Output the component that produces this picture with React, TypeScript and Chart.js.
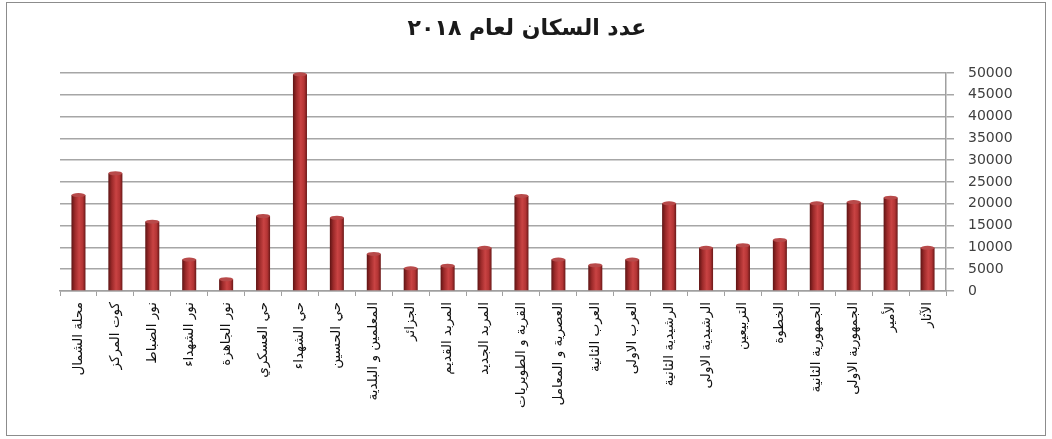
import React, { useEffect, useRef } from "react";
import { Chart, registerables } from "chart.js";

Chart.register(...registerables);

// Categories in data order (first = rightmost, axis reversed as in the original)
const categories: string[] = [
  "الآثار",
  "الأمير",
  "الجمهورية الاولى",
  "الجمهورية الثانية",
  "الخطوة",
  "التربيعين",
  "الرشيدية الاولى",
  "الرشيدية الثانية",
  "العرب الاولى",
  "العرب الثانية",
  "العصرية و المعامل",
  "القرية و الطويريات",
  "المربد الجديد",
  "المربد القديم",
  "الجزائر",
  "المعلمين و البلدية",
  "حي الحسين",
  "حي الشهداء",
  "حي العسكري",
  "نور الجاهزة",
  "نور الشهداء",
  "نور الضباط",
  "كوت المركز",
  "محلة الشمال",
];

const population: number[] = [
  9900, 21400, 20400, 20100, 11700, 10500, 9900, 20100, 7200, 5900, 7200,
  21800, 9900, 5800, 5200, 8500, 16800, 49700, 17200, 2700, 7200, 15900,
  27000, 22000,
];

const yTicks: number[] = [0, 5000, 10000, 15000, 20000, 25000, 30000, 35000, 40000, 45000, 50000];

const titleText = "عدد السكان لعام ٢٠١٨";

const frameAndBars = {
  id: "frameAndBars",
  afterDatasetsDraw(chart: any) {
    const ctx = chart.ctx;
    const meta = chart.getDatasetMeta(0);
    meta.data.forEach((bar: any) => {
      const { x, y, base, width } = bar.getProps(["x", "y", "base", "width"], true);
      const left = x - width / 2;
      const g = ctx.createLinearGradient(left, 0, left + width, 0);
      g.addColorStop(0, "#5e1414");
      g.addColorStop(0.25, "#9c2a2a");
      g.addColorStop(0.55, "#c94343");
      g.addColorStop(0.8, "#b33434");
      g.addColorStop(1, "#6a1818");
      ctx.save();
      ctx.fillStyle = g;
      ctx.fillRect(left, y, width, base - y);
      ctx.beginPath();
      ctx.ellipse(x, y, width / 2, 2, 0, 0, Math.PI * 2);
      ctx.fillStyle = "#b84a4a";
      ctx.fill();
      ctx.restore();
    });
  },
  afterDraw(chart: any) {
    const ctx = chart.ctx;
    ctx.save();
    ctx.strokeStyle = "#8c8c8c";
    ctx.lineWidth = 1;
    ctx.strokeRect(6.5, 2.5, 1039, 433);
    ctx.fillStyle = "#1a1a1a";
    ctx.font = "bold 22px 'DejaVu Sans'";
    ctx.textAlign = "center";
    ctx.textBaseline = "middle";
    ctx.fillText(titleText, 527, 29);
    ctx.restore();
  },
};

export default function App() {
  const ref = useRef<HTMLCanvasElement | null>(null);

  useEffect(() => {
    if (!ref.current) return;
    const chart = new Chart(ref.current, {
      type: "bar",
      data: {
        labels: categories,
        datasets: [
          {
            label: "عدد السكان",
            data: population,
            backgroundColor: "rgba(0,0,0,0)",
            borderWidth: 0,
            barPercentage: 0.38,
            categoryPercentage: 1,
          },
        ],
      },
      options: {
        animation: false,
        responsive: false,
        maintainAspectRatio: false,
        devicePixelRatio: 1,
        layout: { padding: { left: 60, right: 10, top: 73, bottom: 8 } },
        plugins: {
          legend: { display: false },
          tooltip: { enabled: false },
          title: { display: false },
        },
        scales: {
          x: {
            reverse: true,
            grid: {
              display: true,
              drawOnChartArea: false,
              drawTicks: true,
              tickLength: 5,
              color: "#a0a0a0",
            },
            border: { display: true, color: "#a0a0a0", width: 1.5 },
            ticks: {
              autoSkip: false,
              maxRotation: 90,
              minRotation: 90,
              padding: 6,
              color: "#111111",
              font: { family: "DejaVu Sans", size: 13.5 },
            },
            afterFit: (scale: any) => {
              scale.height = 140;
            },
          },
          y: {
            position: "right",
            min: 0,
            max: 50000,
            afterBuildTicks: (scale: any) => {
              scale.ticks = yTicks.map((v) => ({ value: v }));
            },
            grid: {
              color: "#a6a6a6",
              lineWidth: 1.5,
              drawTicks: true,
              tickLength: 8,
            },
            border: { display: true, color: "#a0a0a0", width: 1.5 },
            ticks: {
              padding: 14,
              color: "#404040",
              font: { family: "DejaVu Sans", size: 14 },
              callback: (v: any) => String(v),
            },
            afterFit: (scale: any) => {
              scale.width = 96;
            },
          },
        },
      },
      plugins: [frameAndBars],
    });
    return () => chart.destroy();
  }, []);

  return (
    <div style={{ position: "absolute", left: 0, top: 0, width: 1052, height: 439, background: "#ffffff" }}>
      <canvas ref={ref} width={1052} height={439} style={{ display: "block", width: 1052, height: 439 }} />
    </div>
  );
}
